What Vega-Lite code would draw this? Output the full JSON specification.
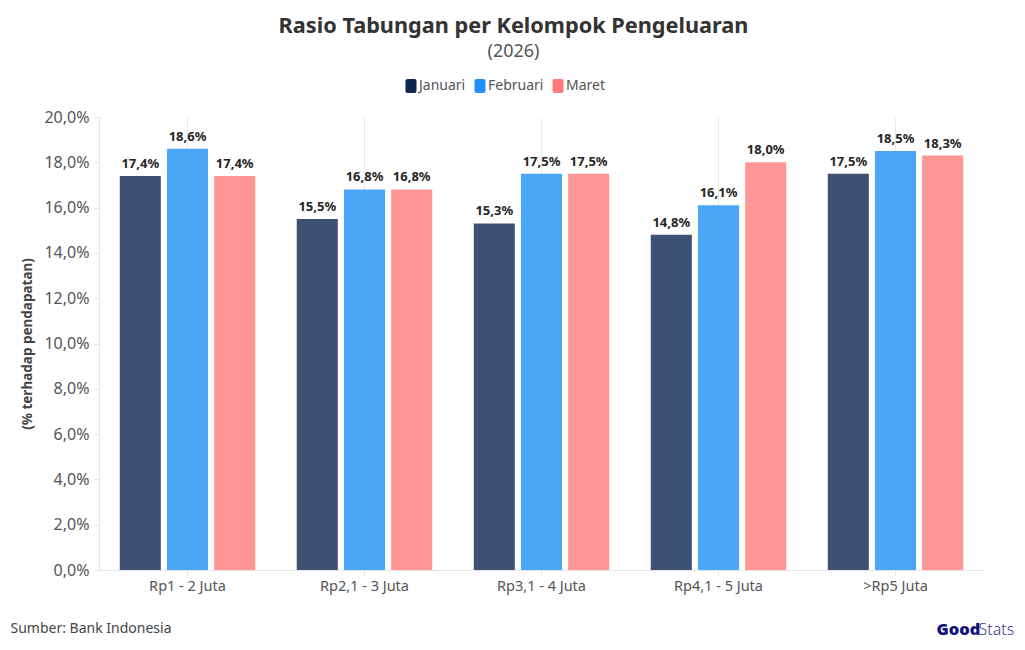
{
  "$schema": "https://vega.github.io/schema/vega-lite/v6.json",
  "width": 885,
  "height": 453,
  "padding": {"left": 99, "top": 117, "right": 41, "bottom": 80},
  "autosize": "none",
  "background": "#ffffff",
  "data": {
    "values": [
      {"kelompok": "Rp1 - 2 Juta", "bulan": "Januari", "rasio": 17.4},
      {"kelompok": "Rp1 - 2 Juta", "bulan": "Februari", "rasio": 18.6},
      {"kelompok": "Rp1 - 2 Juta", "bulan": "Maret", "rasio": 17.4},
      {"kelompok": "Rp2,1 - 3 Juta", "bulan": "Januari", "rasio": 15.5},
      {"kelompok": "Rp2,1 - 3 Juta", "bulan": "Februari", "rasio": 16.8},
      {"kelompok": "Rp2,1 - 3 Juta", "bulan": "Maret", "rasio": 16.8},
      {"kelompok": "Rp3,1 - 4 Juta", "bulan": "Januari", "rasio": 15.3},
      {"kelompok": "Rp3,1 - 4 Juta", "bulan": "Februari", "rasio": 17.5},
      {"kelompok": "Rp3,1 - 4 Juta", "bulan": "Maret", "rasio": 17.5},
      {"kelompok": "Rp4,1 - 5 Juta", "bulan": "Januari", "rasio": 14.8},
      {"kelompok": "Rp4,1 - 5 Juta", "bulan": "Februari", "rasio": 16.1},
      {"kelompok": "Rp4,1 - 5 Juta", "bulan": "Maret", "rasio": 18.0},
      {"kelompok": ">Rp5 Juta", "bulan": "Januari", "rasio": 17.5},
      {"kelompok": ">Rp5 Juta", "bulan": "Februari", "rasio": 18.5},
      {"kelompok": ">Rp5 Juta", "bulan": "Maret", "rasio": 18.3}
    ]
  },
  "encoding": {
    "xOffset": {
      "field": "bulan",
      "type": "nominal",
      "sort": ["Januari", "Februari", "Maret"],
      "scale": {"paddingInner": 0.13, "paddingOuter": 0.44}
    }
  },
  "layer": [
    {
      "mark": {"type": "bar", "opacity": 0.8},
      "encoding": {
        "x": {
          "field": "kelompok",
          "type": "nominal",
          "sort": null,
          "title": "Sumber: Bank Indonesia",
          "scale": {"paddingInner": 0, "paddingOuter": 0},
          "axis": {
            "labelAngle": 0,
            "labelFont": "Noto Sans",
            "labelFontSize": 14.5,
            "labelColor": "#555555",
            "labelPadding": 4,
            "domainColor": "#e6e6e6",
            "tickColor": "#e6e6e6",
            "tickSize": 5,
            "grid": true,
            "gridColor": "#e9e9e9",
            "titleFont": "Noto Sans",
            "titleFontSize": 14,
            "titleFontWeight": "normal",
            "titleColor": "#444444",
            "titleAnchor": "start",
            "titleAlign": "left",
            "titleBaseline": "middle",
            "titleX": -89,
            "titleY": 58
          }
        },
        "y": {
          "field": "rasio",
          "type": "quantitative",
          "title": "(% terhadap pendapatan)",
          "scale": {"domain": [0, 20], "nice": false},
          "axis": {
            "values": [0, 2, 4, 6, 8, 10, 12, 14, 16, 18, 20],
            "labelExpr": "replace(format(datum.value, '.1f'), '.', ',') + '%'",
            "labelFont": "Noto Sans",
            "labelFontSize": 16,
            "labelColor": "#555555",
            "labelPadding": 5,
            "titleFont": "Noto Sans",
            "titleFontSize": 13.5,
            "titleFontWeight": "bold",
            "titleColor": "#444444",
            "titlePadding": 9,
            "domainColor": "#e6e6e6",
            "tickColor": "#e6e6e6",
            "tickSize": 5,
            "grid": false
          }
        },
        "color": {
          "field": "bulan",
          "type": "nominal",
          "sort": ["Januari", "Februari", "Maret"],
          "scale": {
            "domain": ["Januari", "Februari", "Maret"],
            "range": ["#0f2650", "#1e90f5", "#ff7b7b"]
          },
          "legend": {
            "title": null,
            "orient": "none",
            "legendX": 304,
            "legendY": -39,
            "direction": "horizontal",
            "symbolType": "M-0.5,-1H0.5Q0.79,-1,0.79,-0.7V0.7Q0.79,1,0.5,1H-0.5Q-0.79,1,-0.79,0.7V-0.7Q-0.79,-1,-0.5,-1Z",
            "symbolSize": 196,
            "symbolOpacity": 1,
            "labelOffset": 0,
            "columnPadding": 6,
            "labelFont": "Noto Sans",
            "labelFontSize": 14,
            "labelColor": "#555555"
          }
        }
      }
    },
    {
      "mark": {
        "type": "text",
        "baseline": "bottom",
        "dy": -5,
        "font": "Noto Sans",
        "fontSize": 13,
        "fontWeight": "bold",
        "color": "#262626"
      },
      "transform": [
        {"calculate": "replace(format(datum.rasio, '.1f'), '.', ',') + '%'", "as": "label"}
      ],
      "encoding": {
        "x": {
          "field": "kelompok",
          "type": "nominal",
          "sort": null,
          "title": "Good",
          "axis": {
            "orient": "bottom",
            "labels": false,
            "ticks": false,
            "domain": false,
            "grid": false,
            "titleFont": "Noto Sans",
            "titleFontSize": 16.5,
            "titleFontWeight": 900,
            "titleColor": "#12127a",
            "titleAnchor": "start",
            "titleAlign": "left",
            "titleBaseline": "middle",
            "titleX": 837,
            "titleY": 59
          }
        },
        "y": {
          "field": "rasio",
          "type": "quantitative",
          "title": "Stats",
          "scale": {"domain": [0, 20], "nice": false},
          "axis": {
            "orient": "right",
            "labels": false,
            "ticks": false,
            "domain": false,
            "grid": false,
            "titleFont": "Noto Sans",
            "titleFontSize": 16,
            "titleFontWeight": 300,
            "titleColor": "#3a3a8c",
            "titleAngle": 0,
            "titleAlign": "left",
            "titleBaseline": "middle",
            "titleX": -6,
            "titleY": 512
          }
        },
        "text": {"field": "label", "type": "nominal"}
      }
    }
  ],
  "resolve": {"axis": {"x": "independent", "y": "independent"}},
  "title": {
    "text": "Rasio Tabungan per Kelompok Pengeluaran",
    "subtitle": "(2026)",
    "anchor": "middle",
    "dx": -28,
    "offset": 17,
    "font": "Noto Sans",
    "fontSize": 21.7,
    "fontWeight": "bold",
    "color": "#333333",
    "subtitleFont": "Noto Sans",
    "subtitleFontSize": 18,
    "subtitleColor": "#555555",
    "subtitlePadding": 5
  },
  "config": {"view": {"stroke": null}}
}
